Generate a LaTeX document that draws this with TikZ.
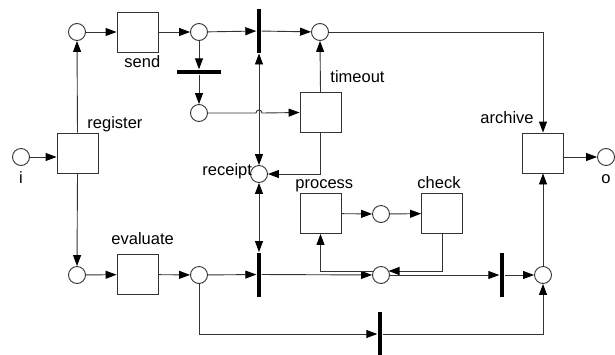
\documentclass[tikz,border=0pt]{standalone}
\usepackage{fontspec}
\setmainfont{Liberation Sans}
\usetikzlibrary{arrows.meta}
\begin{document}
\begin{tikzpicture}[x=1pt,y=-1pt,
  line width=0.9pt,
  place/.style={circle,draw=black!80,fill=white,minimum size=17pt,inner sep=0pt},
  trans/.style={rectangle,draw=black!80,fill=white,minimum width=41pt,minimum height=40pt,inner sep=0pt},
  vbar/.style={rectangle,fill=black,draw=none,minimum width=4.5pt,minimum height=44pt,inner sep=0pt},
  hbar/.style={rectangle,fill=black,draw=none,minimum width=44pt,minimum height=4.5pt,inner sep=0pt},
  lab/.style={anchor=base west,inner sep=0pt,font=\fontsize{16.5}{18}\selectfont,text=black},
  arr/.style={draw=black!80,-{Triangle[length=11pt,width=8pt,black]}},
  darr/.style={draw=black!80,{Triangle[length=11pt,width=8pt,black]}-{Triangle[length=11pt,width=8pt,black]}}]
\useasboundingbox (0,0) rectangle (615,354);
% places
\node[place] (i) at (21,157) {};
\node[place] (p1) at (77,32) {};
\node[place] (p2) at (199,32) {};
\node[place] (p3) at (199,113) {};
\node[place] (p4) at (320,32) {};
\node[place] (receipt) at (259,174) {};
\node[place] (p5) at (77,275) {};
\node[place] (p6) at (199,275) {};
\node[place] (p7) at (381,275) {};
\node[place] (p8) at (543,275) {};
\node[place] (p9) at (381,214) {};
\node[place] (o) at (606,157) {};
% transitions
\node[trans] (reg) at (77.5,153) {};
\node[trans] (send) at (137.5,32) {};
\node[trans] (timeout) at (320.5,112.5) {};
\node[trans] (archive) at (543,153) {};
\node[trans] (evaluate) at (137.5,274.5) {};
\node[trans] (process) at (320.5,213.5) {};
\node[trans] (check) at (442,213.5) {};
% bars
\node[hbar] (hb) at (199,72) {};
\node[vbar] (tb) at (259,31) {};
\node[vbar] (bb) at (259,274.5) {};
\node[vbar] (rb) at (502,275) {};
\node[vbar] (bb2) at (380,334) {};
% labels
\node[lab] (lreg) at (87,128) {register};
\node[lab] (lsend) at (124,67) {send};
\node[lab] (ltime) at (330,82) {timeout};
\node[lab] (larch) at (480,123) {archive};
\node[lab] (lrec) at (202,175) {receipt};
\node[lab] (leval) at (111,244) {evaluate};
\node[lab] (lproc) at (295,188) {process};
\node[lab] (lcheck) at (417,188) {check};
\node[lab,anchor=base] (li) at (21,183) {i};
\node[lab,anchor=base] (lo) at (606,183) {o};
% helper coordinates
\coordinate (hopL) at (256,113);
\coordinate (p7ne) at (388.5,271);
\coordinate (p7nw) at (373.5,271);
% connectors
\draw[arr] (i.east) -- (i -| reg.west);
\draw[arr] (reg.north) -- (p1.south);
\draw[arr] (reg.south) -- (p5.north);
\draw[arr] (p1) -- (send);
\draw[arr] (send) -- (p2);
\draw[arr] (p2) -- (hb);
\draw[arr] (hb) -- (p3);
\draw[arr] (p2) -- (tb);
\draw[arr] (tb) -- (p4);
\draw[arr] (p3.east) -- (hopL) arc[start angle=180,end angle=0,radius=3pt] -- (timeout.west);
\draw[arr] (timeout.north) -- (p4.south);
\draw[arr] (timeout.south) |- (receipt.east);
\draw[darr] (tb.south) -- (receipt.north);
\draw[darr] (receipt.south) -- (bb.north);
\draw[arr] (p5) -- (evaluate);
\draw[arr] (evaluate) -- (p6);
\draw[arr] (p6) -- (bb);
\draw[arr] (bb) -- (p7);
\draw[arr] (p7) -- (rb);
\draw[arr] (rb) -- (p8);
\draw[arr] (p6.south) |- (bb2.west);
\draw[arr] (bb2.east) -| (p8.south);
\draw[arr] (p8.north) -- (archive.south);
\draw[arr] (p4.east) -| (archive.north);
\draw[arr] (archive.east |- o) -- (o.west);
\draw[arr] (process) -- (p9);
\draw[arr] (p9) -- (check);
\draw[arr] (check.south) |- (p7ne);
\draw[arr] (p7nw) -| (process.south);
\end{tikzpicture}
\end{document}
